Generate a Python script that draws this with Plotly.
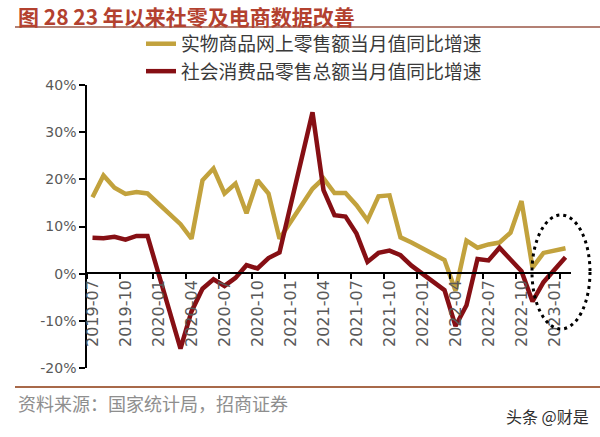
import plotly.graph_objects as go

# ---- data ----
months = [
    "2019-07", "2019-08", "2019-09", "2019-10", "2019-11", "2019-12",
    "2020-01", "2020-02", "2020-03", "2020-04", "2020-05", "2020-06",
    "2020-07", "2020-08", "2020-09", "2020-10", "2020-11", "2020-12",
    "2021-01", "2021-02", "2021-03", "2021-04", "2021-05", "2021-06",
    "2021-07", "2021-08", "2021-09", "2021-10", "2021-11", "2021-12",
    "2022-01", "2022-02", "2022-03", "2022-04", "2022-05", "2022-06",
    "2022-07", "2022-08", "2022-09", "2022-10", "2022-11", "2022-12",
    "2023-01", "2023-02",
]

online_goods = [
    16.2, 20.8, 18.2, 16.9, 17.3, 17.0,
    None, None, 10.5, 7.4, 19.8, 22.3,
    17.0, 19.1, 12.8, 19.8, 17.0, 7.4,
    None, None, 18.0, 20.2, 17.1, 17.1,
    14.5, 11.3, 16.4, 16.6, 7.7, 6.6,
    None, None, 2.9, -3.6, 7.0, 5.5,
    6.2, 6.6, 8.7, 15.4, 1.3, 4.4,
    None, 5.4,
]

retail_total = [
    7.6, 7.5, 7.8, 7.2, 8.0, 8.0,
    None, None, -15.9, -8.0, -3.2, -1.2,
    -2.6, -0.9, 1.8, 1.1, 3.3, 4.5,
    None, None, 34.2, 17.7, 12.4, 12.1,
    8.5, 2.5, 4.4, 4.9, 3.9, 1.7,
    None, None, -3.5, -11.1, -6.7, 3.1,
    2.8, 5.5, 3.0, 0.5, -5.9, -1.8,
    None, 3.5,
]

series_names = ["实物商品网上零售额当月值同比增速", "社会消费品零售总额当月值同比增速"]
x_tick_labels = months[0:43:3]
y_tick_vals = [-20, -10, 0, 10, 20, 30, 40]
y_tick_text = ["-20%", "-10%", "0%", "10%", "20%", "30%", "40%"]

title_text = "图 28 23 年以来社零及电商数据改善"
source_text = "资料来源：国家统计局，招商证券"
watermark_text = "头条 @财是"

# ---- geometry helpers (pixel -> paper) ----
W, H = 600, 437
ML, MR, MT, MB = 87, 29, 85, 69
PW, PH = W - ML - MR, H - MT - MB


def px(xp):
    return (xp - ML) / PW


def py(yp):
    return (H - MB - yp) / PH


YELLOW = "#C2A23D"
RED = "#860F14"
GREY = "#595959"
CJK = "Noto Sans CJK SC"

fig = go.Figure()
fig.add_trace(go.Scatter(
    x=months, y=online_goods, mode="lines", name=series_names[0],
    line=dict(color=YELLOW, width=4.5), connectgaps=True,
))
fig.add_trace(go.Scatter(
    x=months, y=retail_total, mode="lines", name=series_names[1],
    line=dict(color=RED, width=4.5), connectgaps=True,
))

fig.update_layout(
    width=W, height=H,
    margin=dict(l=ML, r=MR, t=MT, b=MB, pad=0, autoexpand=False),
    paper_bgcolor="white", plot_bgcolor="white",
    showlegend=True,
    legend=dict(
        x=px(141), y=py(25), xanchor="left", yanchor="top",
        orientation="v", bgcolor="rgba(0,0,0,0)",
        font=dict(family=CJK, size=18.8, color="#3A3A3A"),
        tracegroupgap=0,
    ),
    xaxis=dict(
        type="category", categoryorder="array", categoryarray=months,
        range=[-0.5, len(months) - 0.5],
        anchor="free", position=py(273),
        showline=True, linecolor="black", linewidth=1.5,
        ticks="outside", ticklen=5, tickcolor="black", tickwidth=1.5,
        tickson="boundaries",
        tickmode="array", tickvals=x_tick_labels, ticktext=x_tick_labels,
        tickangle=-90,
        tickfont=dict(family="DejaVu Sans", size=16, color=GREY),
        showgrid=False, zeroline=False,
    ),
    yaxis=dict(
        range=[-20, 40],
        tickmode="array", tickvals=y_tick_vals, ticktext=y_tick_text,
        showline=True, linecolor="black", linewidth=1.5,
        ticks="outside", ticklen=6, tickcolor="black", tickwidth=1.5,
        tickfont=dict(family="DejaVu Sans", size=14, color=GREY),
        showgrid=False, zeroline=False,
    ),
)

# decorative lines, dotted ellipse
fig.add_shape(type="line", xref="paper", yref="paper",
              x0=px(15), x1=px(600), y0=py(27), y1=py(27),
              line=dict(color="#9A5646", width=1.6))
fig.add_shape(type="line", xref="paper", yref="paper",
              x0=px(15), x1=px(600), y0=py(387), y1=py(387),
              line=dict(color="#A8694A", width=2))
fig.add_shape(type="circle", xref="paper", yref="paper",
              x0=px(532), x1=px(590), y0=py(329), y1=py(215),
              line=dict(color="black", width=3, dash="3px,4px"))

fig.add_annotation(text=title_text, xref="paper", yref="paper",
                   x=px(17), y=py(0), xanchor="left", yanchor="top",
                   showarrow=False, borderpad=0,
                   font=dict(family=CJK, size=21, color="#B3412F", weight="bold"))
fig.add_annotation(text=source_text, xref="paper", yref="paper",
                   x=px(16), y=py(403), xanchor="left", yanchor="middle",
                   showarrow=False,
                   font=dict(family=CJK, size=18, color="#8E8E8E"))
fig.add_annotation(text=watermark_text, xref="paper", yref="paper",
                   x=px(591), y=py(416), xanchor="right", yanchor="middle",
                   showarrow=False,
                   font=dict(family=CJK, size=16, color="#2E2E2E"))

fig.write_html("out.html", config={"displayModeBar": False},
               post_script="document.body.style.margin='0';")
